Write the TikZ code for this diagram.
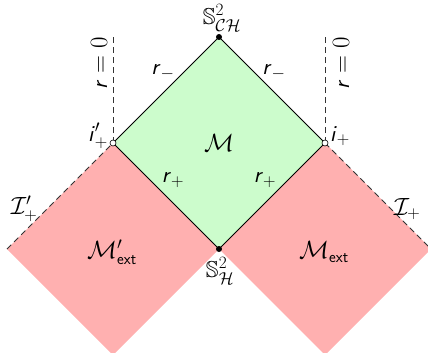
\documentclass[tikz,border=0pt]{standalone}
\usepackage{amsmath,amssymb}
\definecolor{ingreen}{HTML}{CCFCCC}
\definecolor{exred}{HTML}{FFB0B0}
\newcommand{\rsf}{\text{\sffamily\itshape r\/}}
\newcommand{\isf}{\text{\sffamily\itshape i\/}}
\tikzset{
  lbl/.style={inner sep=1pt, font=\fontsize{23}{27}\selectfont},
  horizon/.style={draw=black, line width=0.8pt},
  nullinf/.style={draw=black!80, line width=0.8pt, dash pattern=on 6pt off 4pt},
  blackdot/.style={circle, fill=black, inner sep=0pt, minimum size=6pt},
  opendot/.style={circle, draw=black, fill=white, line width=0.6pt, inner sep=0pt, minimum size=6pt}
}
\begin{document}
\begin{tikzpicture}[x=1pt,y=-1pt]
\useasboundingbox (0,0) rectangle (428,353);
\clip (0,0) rectangle (428,353);
\coordinate (top) at (219,37);
\coordinate (L) at (113,143);
\coordinate (R) at (325,143);
\coordinate (B) at (219,249);
\coordinate (LL) at (7,249);
\coordinate (RR) at (431,249);
\coordinate (LB) at (113,355);
\coordinate (RB) at (325,355);
\coordinate (LT) at (113,37);
\coordinate (RT) at (325,37);
% regions
\fill[ingreen] (top) -- (R) -- (B) -- (L) -- cycle;
\fill[exred] (L) -- (B) -- (LB) -- (LL) -- cycle;
\fill[exred] (R) -- (RR) -- (RB) -- (B) -- cycle;
% boundaries
\draw[horizon] (L) -- (top) -- (R);
\draw[horizon] (L) -- (B) -- (R);
\draw[nullinf] (LL) -- (L);
\draw[nullinf] (R) -- (RR);
\draw[nullinf] (L) -- (LT);
\draw[nullinf] (R) -- (RT);
% points
\node[blackdot] (ptop) at (top) {};
\node[blackdot] (pbot) at (B) {};
\node[opendot] (pL) at (L) {};
\node[opendot] (pR) at (R) {};
% labels
\node[lbl] (sch) at (222,18) {$\mathbb{S}^2_{\mathcal{CH}}$};
\node[lbl] (sh) at (220,271) {$\mathbb{S}^2_{\mathcal{H}}$};
\node[lbl] (rml) at (163,72) {$\rsf_-$};
\node[lbl] (rmr) at (274,72) {$\rsf_-$};
\node[lbl] (rpl) at (173,180) {$\rsf_+$};
\node[lbl] (rpr) at (265,180) {$\rsf_+$};
\node[lbl] (M) at (219,143) {$\mathcal{M}$};
\node[lbl] (Mpext) at (112,252) {$\mathcal{M}'_{\textsf{ext}}$};
\node[lbl] (Mext) at (324,252) {$\mathcal{M}_{\textsf{ext}}$};
\node[lbl] (scrip) at (24,209) {$\mathcal{I}'_+$};
\node[lbl] (scri) at (407,209) {$\mathcal{I}_+$};
\node[lbl] (ipl) at (98,136) {$\isf'_+$};
\node[lbl] (ipr) at (340,136) {$\isf_+$};
\node[lbl, rotate=90] (r0l) at (99,63) {$\rsf=0$};
\node[lbl, rotate=90] (r0r) at (341,63) {$\rsf=0$};
\end{tikzpicture}
\end{document}
